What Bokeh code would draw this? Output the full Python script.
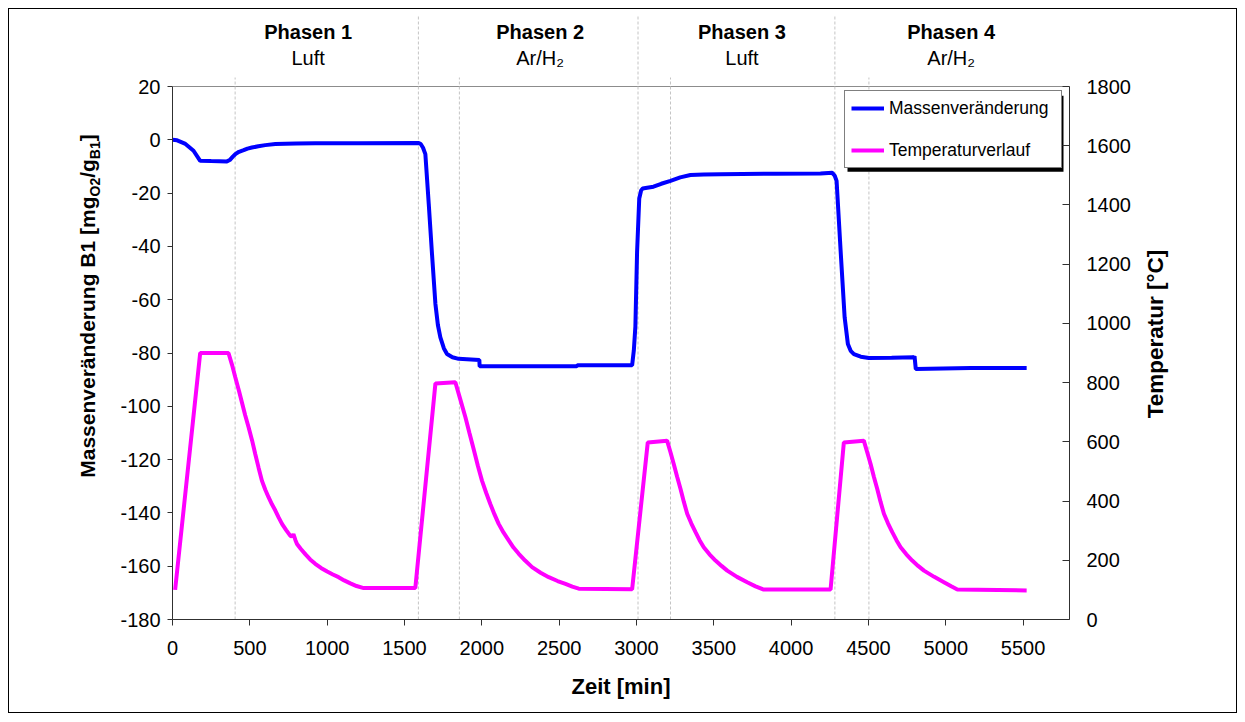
import math
from bokeh.plotting import figure
from bokeh.layouts import row
from bokeh.models import Range1d, LinearAxis, FixedTicker, Legend, LegendItem
from bokeh.core.properties import value
from bokeh.embed import file_html
from bokeh.resources import INLINE

# ---------------- data ----------------
time_mass = [0, 30, 80, 136, 179, 250, 352, 370, 390, 406, 430, 460, 485, 513, 555, 600, 665,
             730, 800, 923, 1200,
             1592, 1605, 1620, 1635, 1657, 1678, 1700, 1716, 1732, 1755, 1775, 1810, 1850,
             1984, 1986, 2300, 2614, 2618, 2972, 2983, 2993, 3004, 3018, 3030, 3040, 3069,
             3110, 3160, 3220, 3283, 3349, 3435, 3543, 3900, 4190, 4266, 4282, 4294, 4320, 4346,
             4367, 4385, 4406, 4450, 4503, 4650, 4794, 4798, 4806, 5161, 5523]
mass_change = [0.0, -0.2, -1.4, -4.1, -7.9, -8.0, -8.1, -7.6, -6.3, -5.4, -4.5, -3.9, -3.3, -2.9,
               -2.4, -2.0, -1.6, -1.5, -1.4, -1.3, -1.25,
               -1.2, -1.6, -3.0, -5.4, -24.1, -42.9, -61.6, -69.5, -74.1, -78.3, -80.4, -81.6, -82.2,
               -82.6, -85.0, -85.0, -85.0, -84.6, -84.6, -79.0, -70.0, -42.0, -22.0, -19.0, -18.3, -18.0,
               -17.6, -16.5, -15.4, -14.1, -13.2, -13.0, -12.9, -12.7, -12.6, -12.4, -13.5, -15.4,
               -41.6, -66.6, -76.6, -79.2, -80.4, -81.4, -81.9, -81.8, -81.6, -81.2, -86.0, -85.6, -85.6]

time_temp = [17, 179, 362, 385, 406, 430, 449, 470, 492, 515, 535, 557, 578, 600, 621, 643, 665,
             687, 708, 735, 761, 772, 782, 795, 805, 830, 860, 890, 923, 960, 1000, 1037, 1074,
             1110, 1150, 1190, 1236, 1570,
             1700, 1829, 1860, 1894, 1920, 1947, 1974, 2001, 2028, 2055, 2082, 2109, 2140, 2174,
             2205, 2239, 2280, 2325, 2380, 2433, 2490, 2541, 2585, 2627, 2972,
             3073, 3198, 3220, 3241, 3263, 3285, 3306, 3328, 3355, 3382, 3408, 3435, 3472, 3511,
             3550, 3587, 3650, 3716, 3770, 3823, 4255,
             4341, 4470, 4492, 4514, 4535, 4557, 4578, 4600, 4627, 4654, 4681, 4708, 4745, 4783,
             4821, 4859, 4925, 4988, 5035, 5075, 5523]
temperature = [100, 900, 900, 860, 818, 772, 733, 690, 649, 604, 559, 512, 469, 438, 413, 389, 368,
               344, 323, 302, 283, 280, 288, 268, 255, 238, 220, 203, 188, 174, 162, 152, 143,
               132, 122, 113, 106, 106,
               797, 801, 745, 683, 630, 576, 520, 469, 428, 390, 355, 323, 294, 267,
               243, 222, 199, 177, 158, 143, 130, 120, 111, 104, 102,
               598, 604, 565, 525, 482, 441, 398, 357, 324, 295, 268, 244, 220, 199,
               181, 165, 144, 126, 112, 101, 101,
               598, 604, 565, 525, 482, 441, 398, 357, 324, 295, 268, 244, 220, 199,
               181, 165, 144, 126, 112, 101, 98]

phase_bounds = [1590, 3010, 4283]
event_times = [405, 1855, 3220, 4503]
phase_centers = [877, 2377, 3682, 5035]
phase_titles = ["Phasen 1", "Phasen 2", "Phasen 3", "Phasen 4"]
phase_gases = ["Luft", "Ar/H\u2082", "Luft", "Ar/H\u2082"]

x_ticks = [0, 500, 1000, 1500, 2000, 2500, 3000, 3500, 4000, 4500, 5000, 5500]
mass_ticks = [-180, -160, -140, -120, -100, -80, -60, -40, -20, 0, 20]
temp_ticks = [0, 200, 400, 600, 800, 1000, 1200, 1400, 1600, 1800]

# ---------------- layout ----------------
FONT = "Liberation Sans"
W, H = 1245, 722
LW, RW = 106, 105                 # side strips holding the rotated axis titles
MW = W - LW - RW                  # main figure width
PLOT_L, PLOT_R = 172, 1069        # frame edges on the page
LEFT = PLOT_L - LW
RIGHT = (W - RW) - PLOT_R
TOP, BOTTOM = 10, 103
FRAME_W = MW - LEFT - RIGHT
FRAME_H = H - TOP - BOTTOM
AXIS_H = 533          # pixel height of the valued part of the y axes
BASE_K = 0.45         # observed baseline drop of svg text, as a fraction of font size

X0, X1 = 0, 5800
M0, M1 = -180, 20
T0, T1 = 0, 1800
m_top = M0 + (M1 - M0) * FRAME_H / AXIS_H
t_top = T0 + (T1 - T0) * FRAME_H / AXIS_H


def xd(px):
    return X0 + (px - PLOT_L) * (X1 - X0) / FRAME_W


def yd(py):
    return M0 + (H - BOTTOM - py) * (M1 - M0) / AXIS_H


p = figure(width=MW, height=H, x_range=Range1d(X0, X1), y_range=Range1d(M0, m_top),
           output_backend="svg", toolbar_location=None,
           min_border_left=LEFT, min_border_right=RIGHT,
           min_border_top=TOP, min_border_bottom=BOTTOM,
           background_fill_color="white", border_fill_alpha=0,
           outline_line_color=None)
p.grid.visible = False
p.extra_y_ranges = {"temp": Range1d(T0, t_top)}

AXIS_COLOR = "#303030"


def style_axis(ax, size="20px"):
    ax.axis_line_color = AXIS_COLOR
    ax.axis_line_width = 1
    ax.major_tick_line_color = AXIS_COLOR
    ax.minor_tick_line_color = None
    ax.major_label_text_font = FONT
    ax.major_label_text_font_size = size
    ax.major_label_text_color = "black"


xa = p.xaxis[0]
style_axis(xa)
xa.ticker = FixedTicker(ticks=x_ticks)
xa.major_tick_out = 6
xa.major_tick_in = 0
xa.major_label_standoff = 15
xa.axis_label = "Zeit [min]"
xa.axis_label_text_font = FONT
xa.axis_label_text_font_style = "bold"
xa.axis_label_text_font_size = "22px"
xa.axis_label_text_color = "black"
xa.axis_label_standoff = 16

ya = p.yaxis[0]
style_axis(ya)
ya.bounds = (M0, M1)
ya.ticker = FixedTicker(ticks=mass_ticks)
ya.major_label_overrides = {t: str(t) for t in mass_ticks}
ya.major_tick_out = 5
ya.major_tick_in = 0
ya.major_label_standoff = 7

ra = LinearAxis(y_range_name="temp", bounds=(T0, T1), ticker=FixedTicker(ticks=temp_ticks))
style_axis(ra)
ra.major_tick_out = 0
ra.major_tick_in = 7
ra.major_label_standoff = 17
p.add_layout(ra, "right")

# top border of plot area
p.segment(x0=[X0], y0=[M1], x1=[X1], y1=[M1], line_color="#8c8c8c", line_width=1)

# dashed guide lines
p.segment(x0=phase_bounds, y0=[M0] * len(phase_bounds), x1=phase_bounds,
          y1=[yd(15)] * len(phase_bounds), line_color="#c4c4c4", line_width=1, line_dash="3 2")
p.segment(x0=event_times, y0=[M0] * len(event_times), x1=event_times,
          y1=[yd(77)] * len(event_times), line_color="#c4c4c4", line_width=1, line_dash="3 2")

# curves
temp_r = p.line(time_temp, temperature, y_range_name="temp", line_color="#FF00FF", line_width=4)
mass_r = p.line(time_mass, mass_change, line_color="#0000FF", line_width=4)

# phase labels
p.text(x=phase_centers, y=[yd(31.3)] * 4, text=phase_titles, text_font=value(FONT),
       text_font_style="bold", text_font_size="20px", text_align="center",
       text_baseline="alphabetic", text_color="black")
p.text(x=phase_centers, y=[yd(57)] * 4, text=phase_gases, text_font=value(FONT),
       text_font_size="20px", text_align="center", text_baseline="alphabetic",
       text_color="black")

# legend shadow
p.quad(left=[xd(847)], right=[xd(1063)], top=[yd(95.3)], bottom=[yd(171.3)],
       fill_color="black", line_color=None)

legend = Legend(items=[LegendItem(label="Massenveränderung", renderers=[mass_r]),
                       LegendItem(label="Temperaturverlauf", renderers=[temp_r])],
                location=(844 - PLOT_L, H - BOTTOM - 168), margin=0, padding=6, spacing=20,
                label_height=22, glyph_height=22, glyph_width=33, label_standoff=5,
                label_width=166, label_text_font=FONT, label_text_font_size="17.5px",
                label_text_color="black",
                border_line_color="black", border_line_width=1,
                background_fill_color="white", background_fill_alpha=1.0)
p.add_layout(legend)


def side_strip(width):
    # row layouts align the plot frames, so the strip's frame spans the main frame's rows;
    # map its y range to page pixels of that span (top -> bottom)
    f = figure(width=width, height=H, x_range=Range1d(0, width),
               y_range=Range1d(H - BOTTOM, TOP),
               output_backend="svg", toolbar_location=None, x_axis_location=None,
               y_axis_location=None, min_border_left=0, min_border_right=0,
               min_border_top=TOP, min_border_bottom=BOTTOM, outline_line_color=None,
               background_fill_alpha=0, border_fill_alpha=0)
    f.grid.visible = False
    return f


# left strip: rotated y-axis title with subscripts
left = side_strip(LW)
bold_w = {'M': 833, 'a': 556, 's': 556, 'e': 556, 'n': 611, 'v': 556, 'r': 389, 'ä': 556,
          'd': 611, 'u': 611, 'g': 611, ' ': 278, 'B': 722, '1': 556, '[': 333, 'm': 889,
          'O': 778, '2': 556, '/': 278, ']': 333}
pieces = [("Massenveränderung B1 [mg", 21, 0), ("O2", 14, 4), ("/g", 21, 0),
          ("B1", 14, 4), ("]", 21, 0)]
total = sum(sum(bold_w[c] for c in t) * s / 1000 for t, s, _ in pieces)
base_x = 96.5          # wanted baseline column on the page
y_pos = 305.5 + total / 2
for t, s, dx in pieces:
    left.text(x=[base_x + dx - BASE_K * s], y=[y_pos], text=[t], angle=math.pi / 2,
              text_font=value(FONT), text_font_style="bold", text_font_size=f"{s}px",
              text_align="left", text_baseline="alphabetic", text_color="black")
    y_pos -= sum(bold_w[c] for c in t) * s / 1000

# right strip: rotated temperature title
right = side_strip(RW)
r_size = 22.5
right.text(x=[1165 - BASE_K * r_size - (W - RW)], y=[333.5], text=["Temperatur [°C]"],
           angle=math.pi / 2, text_font=value(FONT), text_font_style="bold",
           text_font_size=f"{r_size}px", text_align="center", text_baseline="alphabetic",
           text_color="black")

lay = row(left, p, right)
bg = ("linear-gradient(#000,#000) 8px 8px / 1229px 1px no-repeat, "
      "linear-gradient(#000,#000) 8px 712px / 1229px 1px no-repeat, "
      "linear-gradient(#000,#000) 8px 8px / 1px 705px no-repeat, "
      "linear-gradient(#000,#000) 1236px 8px / 1px 705px no-repeat, #ffffff")
lay.styles = {"background": bg}

open("out.html", "w").write(file_html(lay, INLINE))
